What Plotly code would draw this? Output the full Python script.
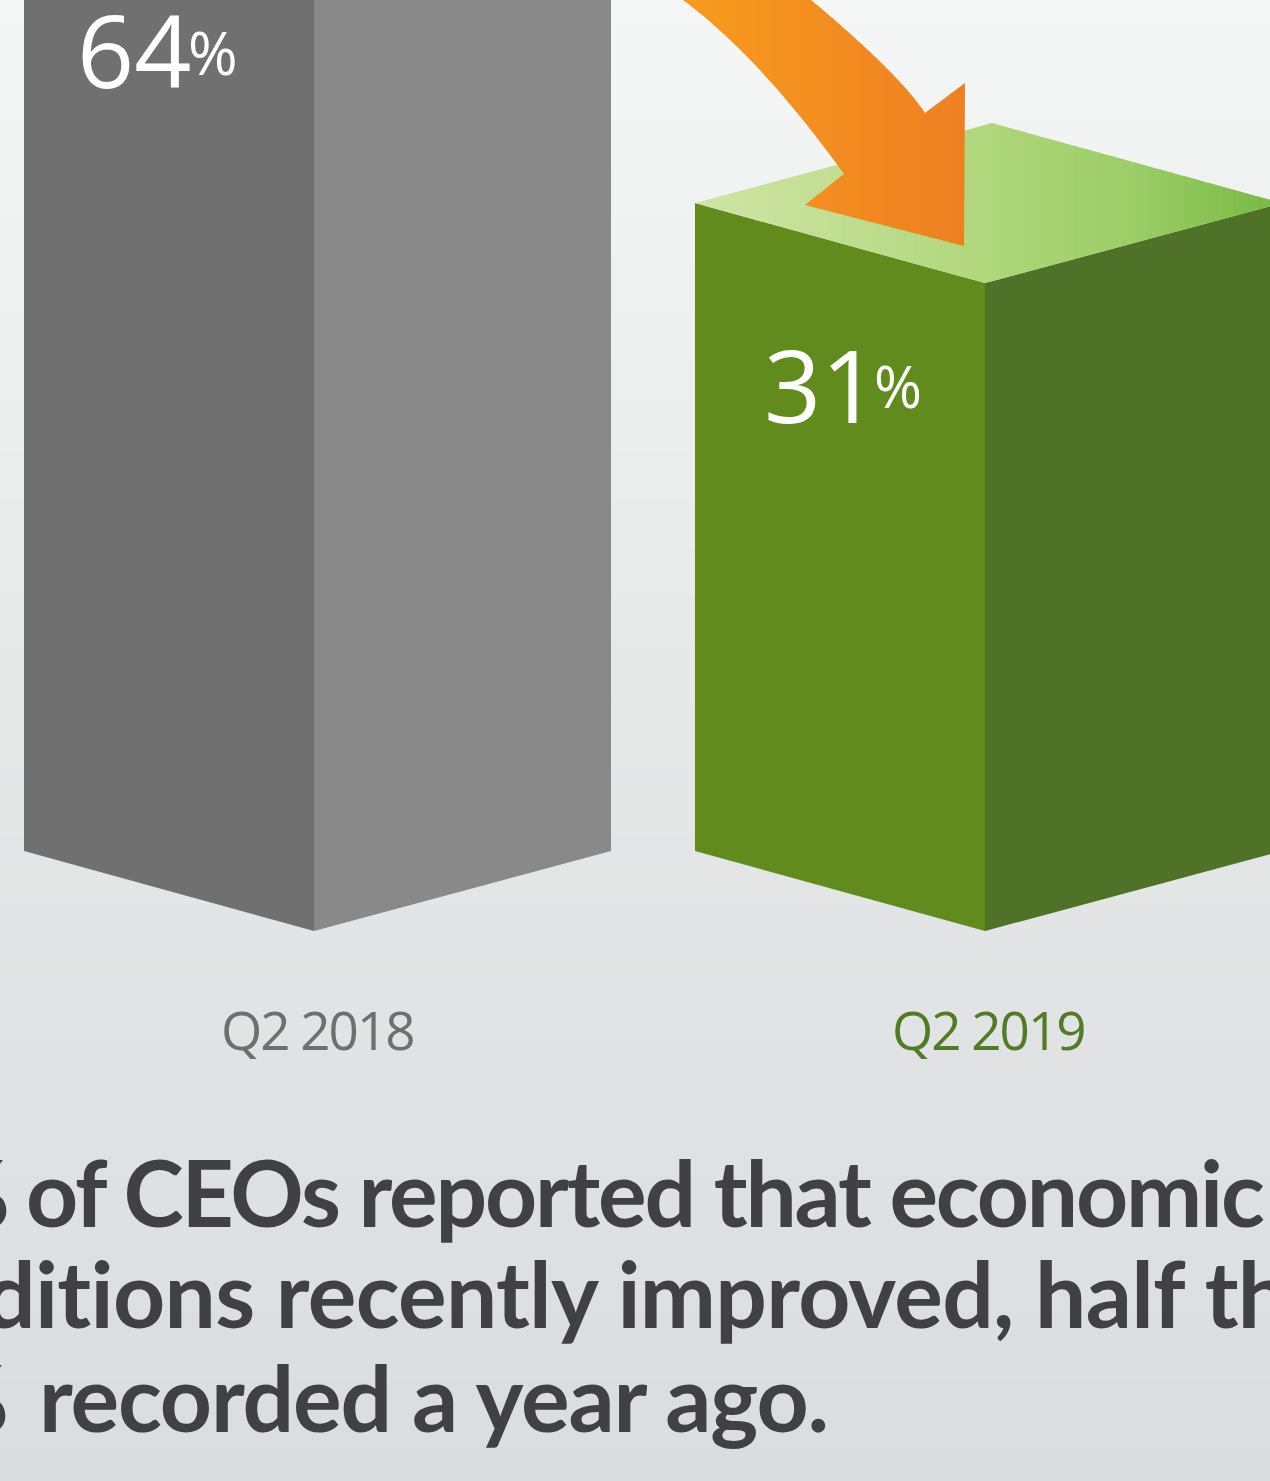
import numpy as np
import plotly.graph_objects as go

# ---- data -------------------------------------------------------------
categories = ["Q2 2018", "Q2 2019"]
values = [64, 31]                      # share of CEOs, percent
headline = [
    ("31%", "of CEOs reported that economic"),
    ("con", "ditions recently improved, half the"),
    ("64%", "recorded a year ago."),
]

# ---- styling ----------------------------------------------------------
W, H = 1270, 1481
BASE_PX = 931            # pixel row of the front-bottom vertex (value 0)
PX_PER_PT = 20.9         # vertical scale, pixels per percentage point
FRONT_X = [314, 985]     # x of the front vertical edge of each column
LEFT_W, RIGHT_W = 290, 297
DEPTH_PX = 80            # isometric rise of the side corners

left_face = ["#707070", "#618b1d"]
right_face = ["#898989", "#4f7228"]
top_stops = [
    [(0.0, "#a3a3a3"), (1.0, "#b5b5b5")],
    [(0.0, "#d0e5a6"), (0.45, "#b3d87f"), (0.75, "#9ccd66"), (1.0, "#77b842")],
]
arrow_stops = [(0.0, "#f89c1d"), (1.0, "#ee8022")]
label_color = ["#6f6f6f", "#527b28"]
value_label_x = [75, 762]      # left edge of the big number
value_label_base = [88, 423]   # baseline row of the big number
pct_label_x = [186, 872]
pct_label_base = [75, 408]
pct_size = [60, 58]

y_top = BASE_PX / PX_PER_PT
y_bot = -(H - BASE_PX) / PX_PER_PT
DEPTH = DEPTH_PX / PX_PER_PT


def yv(py):
    """pixel row -> value on the y axis"""
    return (BASE_PX - py) / PX_PER_PT


def pp(py):
    """pixel row -> paper fraction"""
    return 1 - py / H


def hex_to_rgb(h):
    h = h.lstrip("#")
    return np.array([int(h[i:i + 2], 16) for i in (0, 2, 4)], float)


def lerp_color(stops, t):
    for (t0, c0), (t1, c1) in zip(stops[:-1], stops[1:]):
        if t <= t1:
            f = 0 if t1 == t0 else (t - t0) / (t1 - t0)
            c = hex_to_rgb(c0) * (1 - f) + hex_to_rgb(c1) * f
            return "rgb(%d,%d,%d)" % tuple(np.round(c))
    c = hex_to_rgb(stops[-1][1])
    return "rgb(%d,%d,%d)" % tuple(c)


def clip_half(pts, xc, keep_greater):
    out = []
    for i in range(len(pts)):
        cur, prev = pts[i], pts[i - 1]
        cin = cur[0] >= xc if keep_greater else cur[0] <= xc
        pin = prev[0] >= xc if keep_greater else prev[0] <= xc
        if cin != pin:
            t = (xc - prev[0]) / (cur[0] - prev[0])
            out.append((xc, prev[1] + t * (cur[1] - prev[1])))
        if cin:
            out.append(cur)
    return out


def gradient_strips(poly, stops, n=48):
    """split a polygon into vertical strips, each filled with a step of a
    horizontal colour gradient; strips overlap slightly to hide seams"""
    xs = [p[0] for p in poly]
    x0, x1 = min(xs), max(xs)
    edges = np.linspace(x0, x1, n + 1)
    shapes = []
    for a, b in zip(edges[:-1], edges[1:]):
        piece = clip_half(clip_half(poly, a, True), min(b + 1.2, x1), False)
        if len(piece) < 3:
            continue
        col = lerp_color(stops, ((a + b) / 2 - x0) / (x1 - x0))
        path = "M " + " L ".join("%.3f,%.4f" % p for p in piece) + " Z"
        shapes.append(dict(type="path", path=path, xref="x", yref="y",
                           fillcolor=col, line=dict(width=0),
                           layer="above"))
    return shapes


def quad(p0, c, p1, n=24):
    t = np.linspace(0, 1, n)[:, None]
    p0, c, p1 = map(np.array, (p0, c, p1))
    pts = (1 - t) ** 2 * p0 + 2 * t * (1 - t) * c + t ** 2 * p1
    return [tuple(p) for p in pts]


fig = go.Figure()

# soft vertical background gradient
bg_y = np.linspace(y_bot, y_top, 40)
fig.add_trace(go.Heatmap(
    x=[0, W], y=bg_y, z=[[v, v] for v in bg_y],
    colorscale=[[0, "#dbdcde"], [0.55, "#e7e8e8"], [1, "#f5f6f6"]],
    zsmooth="best", showscale=False, hoverinfo="skip"))

shapes = []
for i, (cat, v) in enumerate(zip(categories, values)):
    fx = FRONT_X[i]
    lx, rx, bx = fx - LEFT_W, fx + RIGHT_W, fx - LEFT_W + RIGHT_W
    # left (front) face
    fig.add_trace(go.Scatter(
        x=[lx, fx, fx, lx, lx], y=[v + DEPTH, v, 0, DEPTH, v + DEPTH],
        fill="toself", fillcolor=left_face[i], mode="lines",
        line=dict(width=0), hoverinfo="skip", showlegend=False))
    # right (shaded) face
    fig.add_trace(go.Scatter(
        x=[fx, rx, rx, fx, fx], y=[v, v + DEPTH, DEPTH, 0, v],
        fill="toself", fillcolor=right_face[i], mode="lines",
        line=dict(width=0), hoverinfo="skip", showlegend=False))
    # top face with gradient
    top = [(lx, v + DEPTH), (fx, v), (rx, v + DEPTH), (bx, v + 2 * DEPTH)]
    shapes += gradient_strips(top, top_stops[i])

# curved arrow pointing into the 2019 column
left_edge = quad((683, 0), (759.5, 56.7), (844, 174))
right_edge = quad((925, 113), (899, 73.6), (811, 0))
arrow_px = [(669, -12)] + left_edge + [(805, 205), (964, 246), (965, 83)] \
    + right_edge + [(797, -12)]
arrow = [(x, yv(py)) for x, py in arrow_px]
shapes += gradient_strips(arrow, arrow_stops, n=40)

annotations = []
for i, (cat, v) in enumerate(zip(categories, values)):
    fx = FRONT_X[i]
    # big value label on the front face
    annotations.append(dict(
        x=value_label_x[i], xref="x", xanchor="left",
        y=pp(value_label_base[i] - 0.388 * 100), yref="paper", yanchor="middle",
        text=str(v), showarrow=False,
        font=dict(family="Open Sans", size=100, color="white")))
    annotations.append(dict(
        x=pct_label_x[i], xref="x", xanchor="left",
        y=pp(pct_label_base[i] - 0.388 * pct_size[i]), yref="paper",
        yanchor="middle", text="%", showarrow=False,
        font=dict(family="Open Sans", size=pct_size[i], color="white")))
    # category label under the column
    annotations.append(dict(
        x=fx + 3, xref="x", xanchor="center",
        y=pp(1050 - 0.388 * 53), yref="paper", yanchor="middle",
        text="<span style='letter-spacing:-2px'>%s</span>" % cat,
        showarrow=False,
        font=dict(family="Open Sans", size=53, color=label_color[i])))

# headline paragraph (runs past both page edges)
HEAD_SIZE = 91
head_track = [-2.2, -0.7, -1.15]     # letter spacing per line, px
head_start = [24, -18, 37]           # left edge of the visible part
head_prefix_end = [10, -16, 10]      # right edge of the clipped prefix
head_base = [1227, 1328, 1432]
for (pre, rest), x0, xp, trk, base in zip(headline, head_start,
                                          head_prefix_end, head_track,
                                          head_base):
    yc = pp(base - 0.387 * HEAD_SIZE)
    style = "letter-spacing:%.2fpx" % trk
    common = dict(xref="paper", y=yc, yref="paper", yanchor="middle",
                  showarrow=False,
                  font=dict(family="Lato", size=HEAD_SIZE, color="#414143",
                            weight="bold"))
    annotations.append(dict(
        x=x0 / W, xanchor="left",
        text="<span style='%s'>%s</span>" % (style, rest), **common))
    annotations.append(dict(
        x=xp / W, xanchor="right",
        text="<span style='%s'>%s</span>" % (style, pre), **common))

fig.update_layout(
    width=W, height=H, margin=dict(l=0, r=0, t=0, b=0),
    paper_bgcolor="#e8e9e9", plot_bgcolor="#e8e9e9",
    showlegend=False, shapes=shapes, annotations=annotations,
    xaxis=dict(range=[0, W], visible=False, fixedrange=True),
    yaxis=dict(range=[y_bot, y_top], visible=False, fixedrange=True),
)

fig.write_html("out.html", config={"displayModeBar": False})
